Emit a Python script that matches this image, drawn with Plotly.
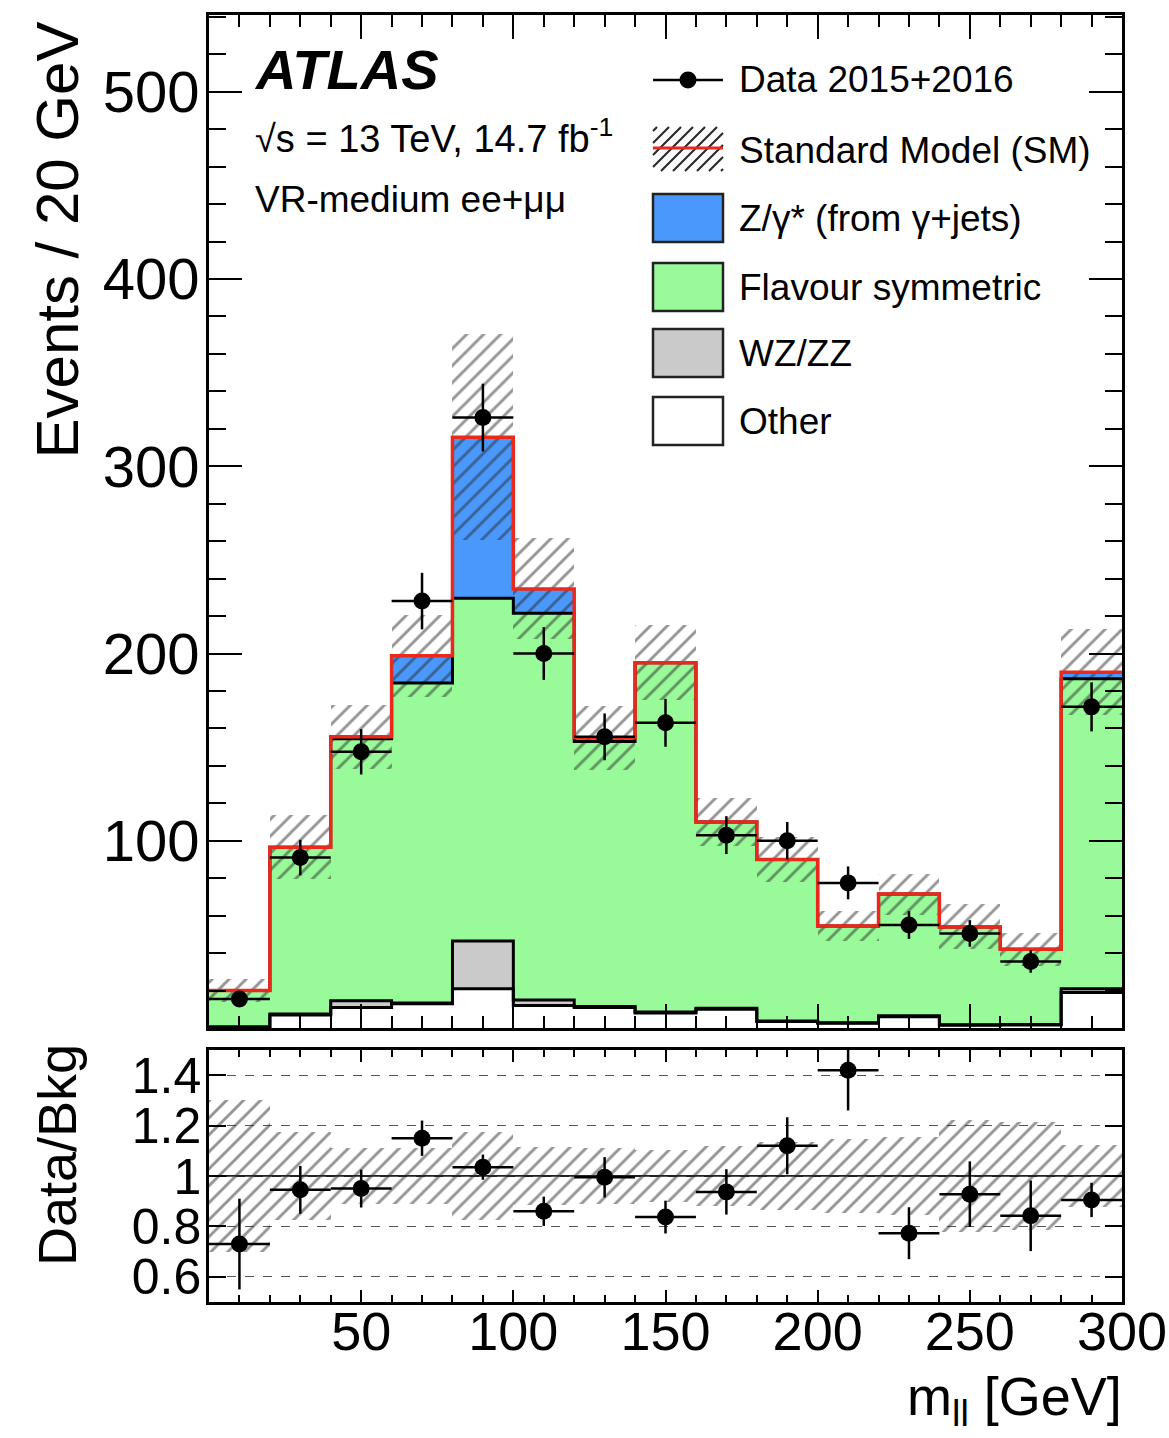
import numpy as np
import plotly.graph_objects as go

# ---------------- data ----------------
bin_edges = [0, 20, 40, 60, 80, 100, 120, 140, 160, 180, 200, 220, 240, 260, 280, 300]
bin_centers = [10, 30, 50, 70, 90, 110, 130, 150, 170, 190, 210, 230, 250, 270, 290]

other = [0.5, 7, 11, 13, 21, 12, 11, 8, 10, 3.5, 2.5, 6, 1.5, 1.6, 19]
wzzz = [0, 0.5, 3.5, 0.3, 25.5, 3, 0.5, 0.5, 0.5, 0.3, 0.3, 0.5, 0.3, 0.3, 2]
flavour_sym = [19.5, 89, 140, 171, 183, 206.5, 141.5, 186.5, 99.5, 86.2, 51.7, 65, 52.2, 40.1, 165.5]
z_gamma = [0, 0, 1, 14.5, 86, 13, 2, 0, 0, 0, 0, 0, 0, 0, 3.5]
sm_unc = [6, 17, 17, 22, 55, 27, 17, 20, 13, 12, 8, 11, 12, 9, 23]

data = [15.5, 91, 147.5, 228, 326, 200, 155.5, 163, 103, 100, 77.5, 55, 50.5, 35.5, 171.5]
data_err = [3.9, 9.5, 12.1, 15.1, 18.1, 14.1, 12.5, 12.8, 10.1, 10, 8.8, 7.4, 7.1, 6, 13.1]

ratio = [0.73, 0.945, 0.95, 1.15, 1.035, 0.86, 0.995, 0.837, 0.937, 1.12, 1.42, 0.773, 0.928, 0.842, 0.905]
ratio_err = [0.18, 0.095, 0.075, 0.07, 0.05, 0.058, 0.08, 0.065, 0.09, 0.113, 0.16, 0.103, 0.13, 0.14, 0.068]

y_ticks = [100, 200, 300, 400, 500]
x_ticks = [50, 100, 150, 200, 250, 300]
r_ticks = [0.6, 0.8, 1.0, 1.2, 1.4]
r_ticktext = ["0.6", "0.8", "1", "1.2", "1.4"]

legend_labels = ["Data 2015+2016", "Standard Model (SM)", "Z/\u03b3* (from \u03b3+jets)",
                 "Flavour symmetric", "WZ/ZZ", "Other"]

# ---------------- derived ----------------
other_a = np.array(other)
wz_a = np.array(wzzz)
fs_a = np.array(flavour_sym)
z_a = np.array(z_gamma)
cum1 = other_a
cum2 = cum1 + wz_a
cum3 = cum2 + fs_a
sm = cum3 + z_a
unc = np.array(sm_unc)
rel = unc / sm

C_BLUE = "#4a98fb"
C_GREEN = "#99fa99"
C_GRAY = "#cacaca"
C_RED = "#e8291c"
C_HATCH = "#2a2a2a"
FONT = "Liberation Sans, Arial, Helvetica, sans-serif"

W, H = 1169, 1438
ML, MR, MT, MB = 209, 47, 15, 136
PW = W - ML - MR
PH = H - MT - MB


def pxx(px):
    return (px - ML) / PW


def pxy(py):
    return (H - MB - py) / PH


top_dom = [pxy(1028), 1.0]
bot_dom = [0.0, pxy(1050)]

fig = go.Figure()

# stacked fills (top panel)
for vals, base, col in [(other_a, np.zeros(15), "white"), (wz_a, cum1, C_GRAY),
                        (fs_a, cum2, C_GREEN), (z_a, cum3, C_BLUE)]:
    fig.add_trace(go.Bar(x=bin_centers, y=vals, base=base, width=20, marker_color=col,
                         marker_line_width=0, opacity=1, showlegend=False,
                         xaxis="x", yaxis="y", hoverinfo="skip"))

hatch = dict(shape="/", fgcolor=C_HATCH, bgcolor="rgba(0,0,0,0)", size=12, solidity=0.24, fillmode="overlay")
# SM uncertainty hatch (top)
fig.add_trace(go.Bar(x=bin_centers, y=2 * unc, base=sm - unc, width=20,
                     marker=dict(color="rgba(0,0,0,0)", line_width=0, pattern=hatch),
                     showlegend=False, xaxis="x", yaxis="y", hoverinfo="skip"))

# ratio hatch
fig.add_trace(go.Bar(x=bin_centers, y=2 * rel, base=1 - rel, width=20,
                     marker=dict(color="rgba(0,0,0,0)", line_width=0, pattern=hatch),
                     showlegend=False, xaxis="x2", yaxis="y2", hoverinfo="skip"))

# step outlines
edges = list(bin_edges)
for top, col, w in [(cum1, "black", 3), (cum2, "black", 3), (cum3, "black", 3), (sm, C_RED, 3.5)]:
    fig.add_trace(go.Scatter(x=edges, y=list(top) + [top[-1]], mode="lines",
                             line=dict(color=col, width=w, shape="hv"), showlegend=False,
                             xaxis="x", yaxis="y", hoverinfo="skip"))

# data points
fig.add_trace(go.Scatter(x=bin_centers, y=data, mode="markers",
                         marker=dict(color="black", size=17),
                         error_y=dict(type="data", array=data_err, width=0, thickness=2.5, color="black"),
                         error_x=dict(type="constant", value=10, width=0, thickness=2.5, color="black"),
                         showlegend=False, xaxis="x", yaxis="y"))
fig.add_trace(go.Scatter(x=bin_centers, y=ratio, mode="markers",
                         marker=dict(color="black", size=17),
                         error_y=dict(type="data", array=ratio_err, width=0, thickness=2.5, color="black"),
                         error_x=dict(type="constant", value=10, width=0, thickness=2.5, color="black"),
                         showlegend=False, xaxis="x2", yaxis="y2"))

axis_common = dict(showline=True, linecolor="black", linewidth=2.5, mirror="allticks",
                   ticks="inside", tickcolor="black", tickwidth=2, zeroline=False, showgrid=False,
                   automargin=False)

fig.update_layout(
    width=W, height=H, margin=dict(l=ML, r=MR, t=MT, b=MB),
    paper_bgcolor="white", plot_bgcolor="white",
    barmode="overlay", bargap=0, showlegend=False,
    font=dict(family=FONT, color="black"),
    xaxis=dict(domain=[0, 1], range=[0, 300], anchor="y", showticklabels=False,
               tickvals=x_ticks, ticklen=24,
               minor=dict(dtick=10, tick0=0, ticklen=12, tickwidth=2, ticks="inside", tickcolor="black"),
               **axis_common),
    yaxis=dict(domain=top_dom, range=[0, 541], anchor="x", tickvals=y_ticks, ticklen=33,
               tickfont=dict(size=58, family=FONT), ticklabelstandoff=-5,
               minor=dict(dtick=20, tick0=0, ticklen=17, tickwidth=2, ticks="inside", tickcolor="black"),
               **axis_common),
    xaxis2=dict(domain=[0, 1], range=[0, 300], anchor="y2", tickvals=x_ticks, ticklen=12,
                tickfont=dict(size=54, family=FONT), ticklabelstandoff=-20,
                minor=dict(dtick=10, tick0=0, ticklen=7, tickwidth=2, ticks="inside", tickcolor="black"),
                **axis_common),
    yaxis2=dict(domain=bot_dom, range=[0.5, 1.5], anchor="x2", tickvals=r_ticks, ticktext=r_ticktext,
                ticklen=17, tickfont=dict(size=50, family=FONT), ticklabelstandoff=-5,
                **{**axis_common, "showgrid": True}, gridcolor="#555555", griddash="dash", gridwidth=1.2),
)

shapes = []
annotations = []
# unity line in ratio
shapes.append(dict(type="line", xref="x2 domain", yref="y2", x0=0, x1=1, y0=1, y1=1,
                   line=dict(color="#222222", width=1.8), layer="below"))

# --- custom legend ---
ly = [80, 150, 218, 287, 353, 421]
bx0, bx1 = 653, 723
hh = 24
# data entry
shapes.append(dict(type="line", xref="paper", yref="paper", x0=pxx(bx0), x1=pxx(bx1),
                   y0=pxy(ly[0]), y1=pxy(ly[0]), line=dict(color="black", width=2.5)))
r = 8.5
shapes.append(dict(type="circle", xref="paper", yref="paper", x0=pxx(688 - r), x1=pxx(688 + r),
                   y0=pxy(ly[0] + r), y1=pxy(ly[0] - r), fillcolor="black", line=dict(color="black", width=0)))
# SM hatched entry
y0b, y1b = ly[1] - 23, ly[1] + 21
step = 12
k = bx0 + y0b + 4
while k < bx1 + y1b:
    xa = max(bx0, k - y1b)
    xb = min(bx1, k - y0b)
    if xb > xa + 1:
        shapes.append(dict(type="line", xref="paper", yref="paper",
                           x0=pxx(xa), y0=pxy(k - xa), x1=pxx(xb), y1=pxy(k - xb),
                           line=dict(color=C_HATCH, width=2.2)))
    k += step
shapes.append(dict(type="line", xref="paper", yref="paper", x0=pxx(bx0), x1=pxx(bx1),
                   y0=pxy(ly[1] - 2), y1=pxy(ly[1] - 2), line=dict(color=C_RED, width=3)))
# boxes
for yy, col in zip(ly[2:], [C_BLUE, C_GREEN, C_GRAY, "white"]):
    shapes.append(dict(type="rect", xref="paper", yref="paper", x0=pxx(bx0), x1=pxx(bx1),
                       y0=pxy(yy + hh), y1=pxy(yy - hh), fillcolor=col,
                       line=dict(color="#222222", width=2.5)))
for yy, lab in zip(ly, legend_labels):
    annotations.append(dict(x=pxx(737), y=pxy(yy), xref="paper", yref="paper", text=lab,
                            showarrow=False, xanchor="left", yanchor="middle",
                            font=dict(size=37, family=FONT, color="black")))

# labels
annotations += [
    dict(x=pxx(252), y=pxy(69), xref="paper", yref="paper", text="<b><i>ATLAS</i></b>",
         showarrow=False, xanchor="left", yanchor="middle", font=dict(size=56, family=FONT)),
    dict(x=pxx(253), y=pxy(136), xref="paper", yref="paper",
         text="\u221as = 13 TeV, 14.7 fb<sup>-1</sup>",
         showarrow=False, xanchor="left", yanchor="middle", font=dict(size=38, family=FONT)),
    dict(x=pxx(253), y=pxy(199), xref="paper", yref="paper", text="VR-medium ee+\u03bc\u03bc",
         showarrow=False, xanchor="left", yanchor="middle", font=dict(size=37, family=FONT)),
    dict(x=pxx(57), y=pxy(20), xref="paper", yref="paper", text="Events / 20 GeV", textangle=-90,
         showarrow=False, xanchor="center", yanchor="top", font=dict(size=60, family=FONT)),
    dict(x=pxx(57), y=pxy(1042), xref="paper", yref="paper", text="Data/Bkg", textangle=-90,
         showarrow=False, xanchor="center", yanchor="top", font=dict(size=54, family=FONT)),
    dict(x=pxx(1124), y=pxy(1364), xref="paper", yref="paper", text="m<sub>ll</sub> [GeV]",
         showarrow=False, xanchor="right", yanchor="top", font=dict(size=54, family=FONT)),
]

fig.update_layout(shapes=shapes, annotations=annotations)
fig.write_html("out.html", include_plotlyjs=True, config={"displayModeBar": False},
               post_script="document.body.style.margin='0';document.body.style.overflow='hidden';")
